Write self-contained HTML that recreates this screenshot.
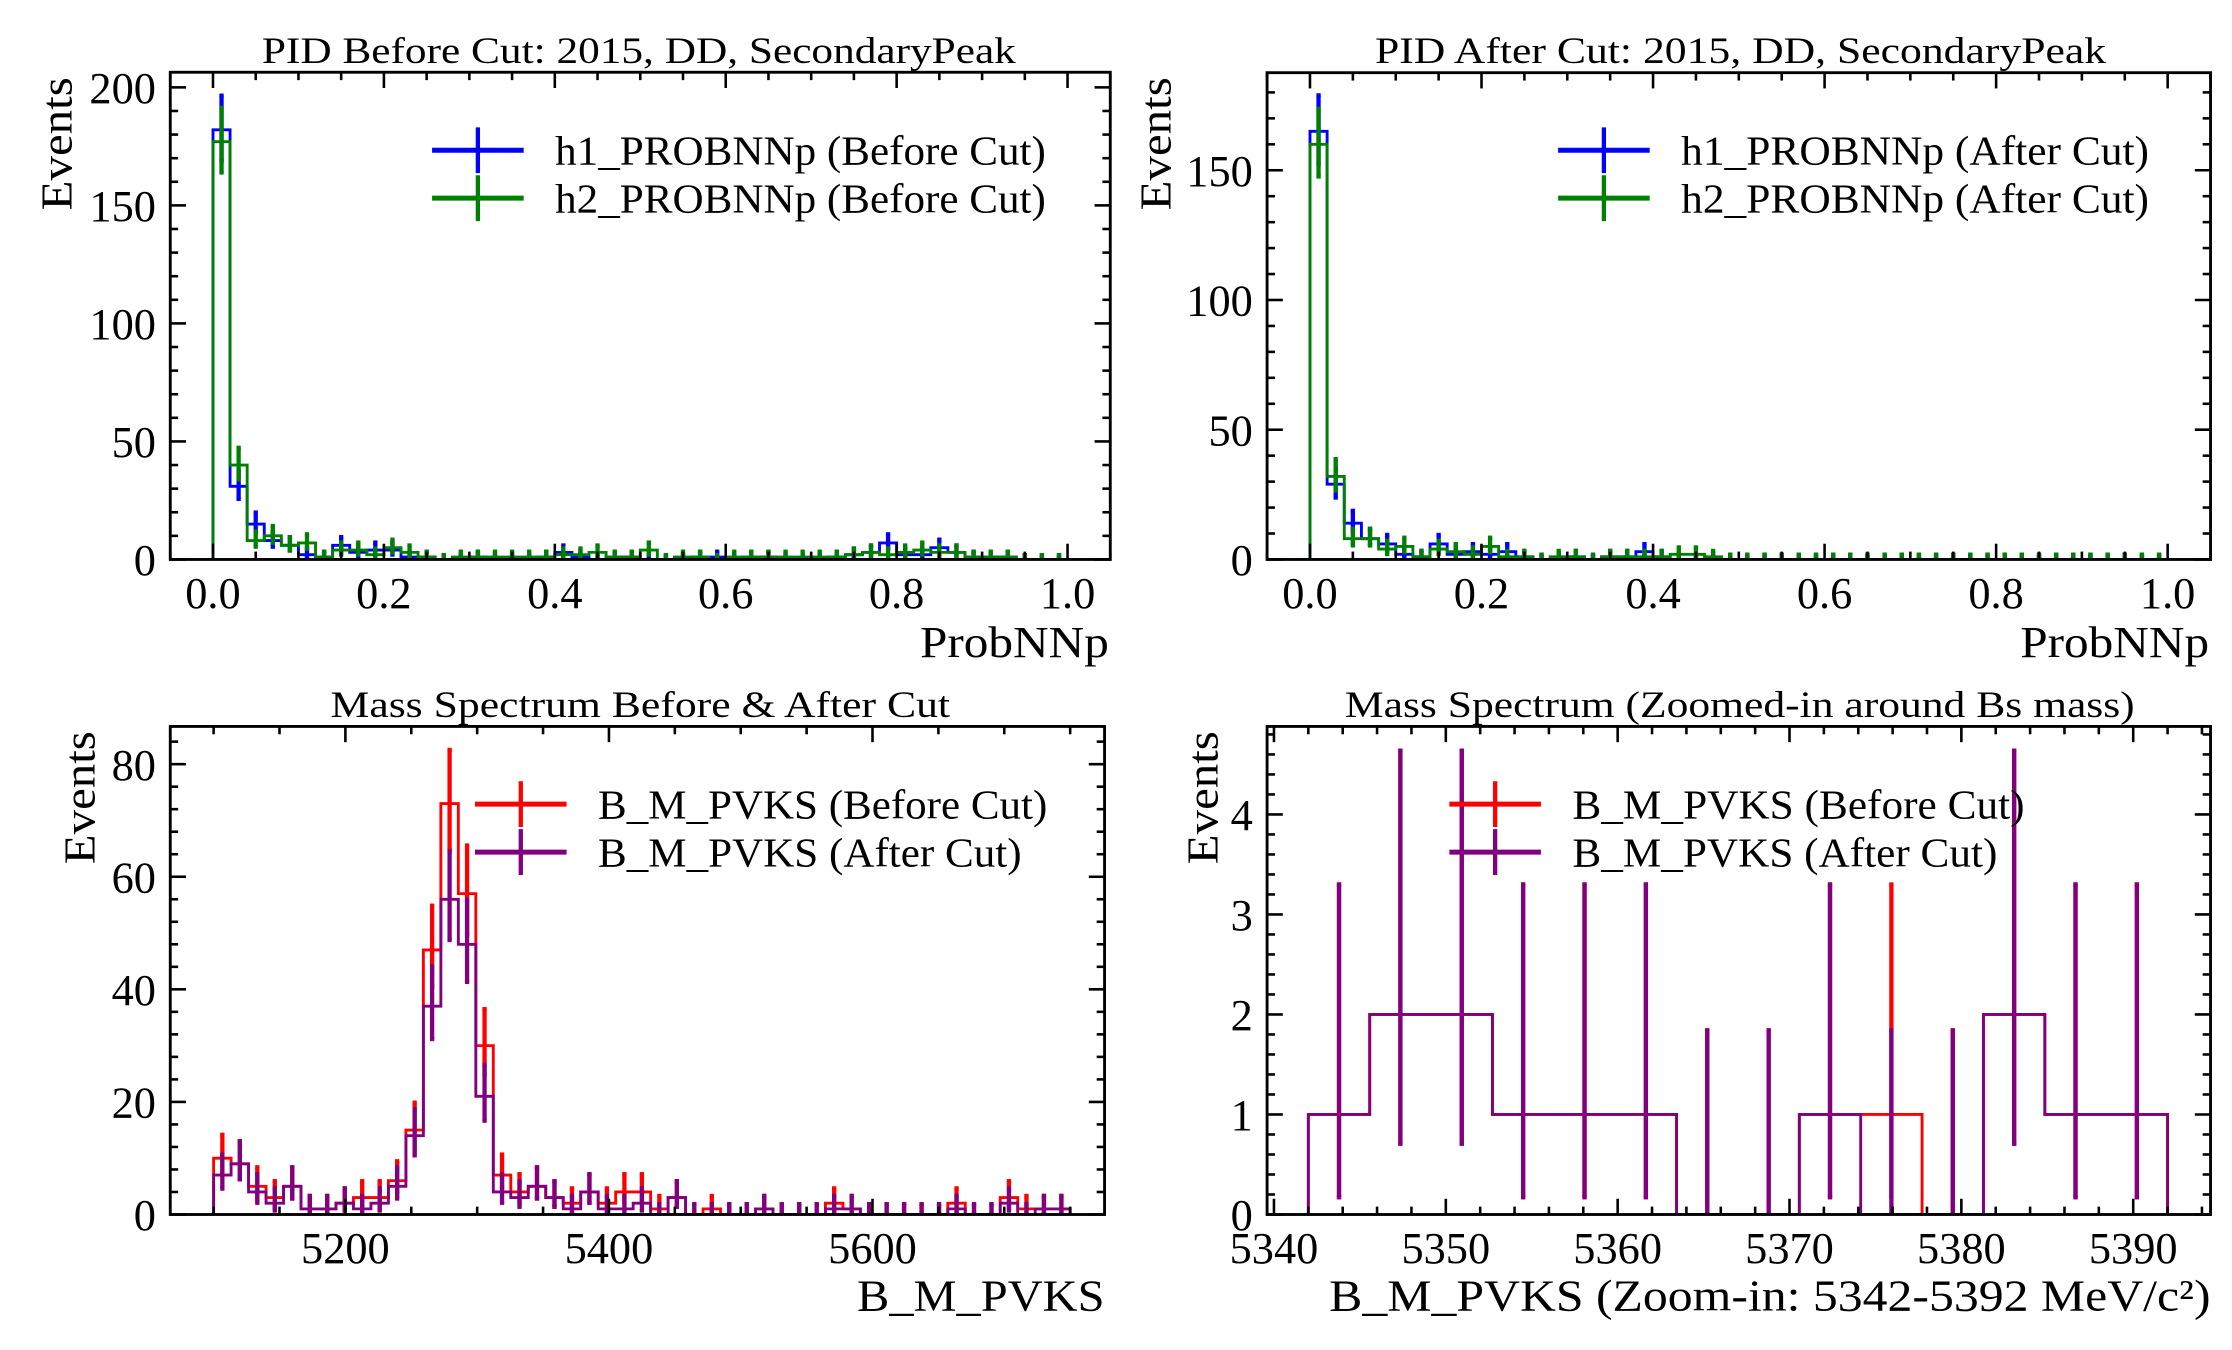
<!DOCTYPE html>
<html><head><meta charset="utf-8"><style>
html,body{margin:0;padding:0;background:#fff;}
svg{display:block;font-family:"Liberation Serif",serif;}
</style></head><body>
<svg id="fig" xmlns="http://www.w3.org/2000/svg" width="2232" height="1350" viewBox="0 0 1560 943.5" preserveAspectRatio="none"></svg>
<script>
// ---- data ----
const pidBins = 50;
const h1Before = [182,31,15,8,6,2,1,6,3,4,4,1,1,0,0,1,0,0,0,1,3,1,0,1,1,0,0,0,1,1,0,1,1,0,0,0,1,2,3,7,2,2,5,3,1,1,1,0,0,0];
const h2Before = [177,40,8,10,6,7,1,4,4,2,5,3,1,0,1,1,1,1,1,1,2,2,3,1,1,4,0,1,1,0,1,1,1,1,1,1,1,2,3,2,3,4,3,3,1,1,1,0,0,0];
const h1After = [165,29,14,8,6,2,1,6,2,3,2,3,1,0,0,1,0,1,1,3,1,0,0,0,0,0,0,0,0,0,0,0,0,0,0,0,0,0,0,0,0,0,0,0,0,0,0,0,0,0];
const h2After = [160,32,8,8,4,5,1,4,3,2,5,1,1,0,1,1,0,1,1,1,1,2,2,1,0,0,0,0,0,0,0,0,0,0,0,0,0,0,0,0,0,0,0,0,0,0,0,0,0,0];
const massBefore = [10,9,5,3,5,1,1,2,3,3,6,15,47,73,57,30,7,4,5,3,2,4,2,4,4,1,3,0,1,0,0,1,0,0,0,2,1,0,0,0,0,0,2,0,0,3,1,1,1];
const massAfter  = [7,9,4,2,5,1,1,2,1,2,5,14,37,56,48,21,4,3,5,3,1,4,1,1,2,0,3,0,0,0,0,1,0,0,0,1,1,0,0,0,0,0,1,0,0,2,0,1,1];
const zoomBefore = [1,2,2,1,1,1,0,0,1,1,0,2,1,1];
const zoomAfter  = [1,2,2,1,1,1,0,0,1,0,0,2,1,1];
const pidTicks = [0,0.2,0.4,0.6,0.8,1.0];
const pidTickLabels = ["0.0","0.2","0.4","0.6","0.8","1.0"];
const yTicksTL = [0,50,100,150,200];
const yTicksTR = [0,50,100,150];
const massTicks = [5200,5400,5600];
const yTicksBL = [0,20,40,60,80];
const zoomTicks = [5340,5350,5360,5370,5380,5390];
const yTicksBR = [0,1,2,3,4];

const NS="http://www.w3.org/2000/svg";
const svg=document.getElementById('fig');
function mk(tag,attrs,parent){const e=document.createElementNS(NS,tag);for(const k in attrs)e.setAttribute(k,attrs[k]);(parent||svg).appendChild(e);return e;}
const garw=[[0,1.841],[0.173,3.300],[0.708,4.638],[1.367,5.918],[2.086,7.163],[2.840,8.382]];
function errs(n){if(n<garw.length)return garw[n];return [n-Math.sqrt(n)+0.25,n+Math.sqrt(n)+1];}

function panel(p){
  const g=mk('g',{});
  
  
  const sx=v=>p.L+(v-p.xmin)/(p.xmax-p.xmin)*(p.R-p.L);
  const sy=v=>p.B-(v-p.ymin)/(p.ymax-p.ymin)*(p.B-p.T);
  const clip='c'+p.name;
  const cp=mk('clipPath',{id:clip},g);mk('rect',{x:p.L,y:p.T,width:p.R-p.L,height:p.B-p.T},cp);
  const dg=mk('g',{'clip-path':'url(#'+clip+')'},g);
  const bw=(p.hi-p.lo)/p.nb;
  p.series.forEach((s,si)=>{
    let d='M'+sx(p.lo)+','+sy(0);
    s.vals.forEach((v,i)=>{d+=' L'+sx(p.lo+i*bw)+','+sy(v)+' L'+sx(p.lo+(i+1)*bw)+','+sy(v);});
    d+=' L'+sx(p.hi)+','+sy(0);
    const st=mk('path',{d:d,fill:'none',stroke:s.color,'stroke-width':2},dg);
    
    
  });
  p.series.forEach((s)=>{
    s.vals.forEach((v,i)=>{
      const cx=sx(p.lo+(i+0.5)*bw);const e=errs(v);
      const eg=mk('g',{stroke:s.color,'stroke-width':3,fill:'none'},dg);
      
      
      mk('line',{x1:cx,x2:cx,y1:sy(e[0]),y2:sy(e[1])},eg);
      mk('line',{x1:cx-1.5,x2:cx+1.5,y1:sy(e[0]),y2:sy(e[0])},eg);
      mk('line',{x1:cx-1.5,x2:cx+1.5,y1:sy(e[1]),y2:sy(e[1])},eg);
    });
  });
  const fr=mk('rect',{x:p.L,y:p.T,width:p.R-p.L,height:p.B-p.T,fill:'none',stroke:'#000','stroke-width':2},g);
  
  const tg=mk('g',{stroke:'#000','stroke-width':1.8},g);
  const xmaj=p.xt[1]-p.xt[0];const xminor=xmaj/p.xsub;
  for(let v=Math.ceil(p.xmin/xminor)*xminor;v<=p.xmax+1e-9;v+=xminor){
    const isMaj=Math.abs(((v-p.xt[0])/xmaj)-Math.round((v-p.xt[0])/xmaj))<1e-6;const l=isMaj?11:5.5;const x=sx(v);
    mk('line',{x1:x,x2:x,y1:p.B,y2:p.B-l},tg);mk('line',{x1:x,x2:x,y1:p.T,y2:p.T+l},tg);}
  const ymaj=p.yt[1]-p.yt[0];const yminor=ymaj/p.ysub;
  for(let v=0;v<=p.ymax+1e-9;v+=yminor){
    const isMaj=Math.abs(v/ymaj-Math.round(v/ymaj))<1e-6;const l=isMaj?11:5.5;const y=sy(v);
    mk('line',{x1:p.L,x2:p.L+l,y1:y,y2:y},tg);mk('line',{x1:p.R,x2:p.R-l,y1:y,y2:y},tg);}
  p.xt.forEach((v,i)=>{const t=mk('text',{x:sx(v),y:p.B+34,'text-anchor':'middle','font-size':31},g);t.textContent=p.xtl?p.xtl[i]:String(v);
    });
  p.yt.forEach(v=>{const t=mk('text',{x:p.L-10,y:sy(v)+11,'text-anchor':'end','font-size':31},g);t.textContent=String(v);
    });
  const ti=mk('text',{x:p.title[1],y:p.title[2],'font-size':26,textLength:p.title[3],lengthAdjust:'spacingAndGlyphs'},g);ti.textContent=p.title[0];
  
  const xl=mk('text',{x:p.xlab[1],y:p.xlab[2],'font-size':31,textLength:p.xlab[3],lengthAdjust:'spacingAndGlyphs'},g);xl.textContent=p.xlab[0];
  
  const yl=mk('text',{x:0,y:0,'font-size':31,textLength:93,lengthAdjust:'spacingAndGlyphs',transform:'translate('+p.ylab[0]+','+p.ylab[1]+') rotate(-90)'},g);yl.textContent='Events';
  
  p.series.forEach((s,i)=>{
    const y=p.leg[1]+i*33.5;
    const lg=mk('g',{},g);
    
    
    mk('line',{x1:p.leg[0],x2:p.leg[0]+64,y1:y,y2:y,stroke:s.color,'stroke-width':3.5},lg);
    mk('line',{x1:p.leg[0]+32,x2:p.leg[0]+32,y1:y-16,y2:y+16,stroke:s.color,'stroke-width':3},lg);
    const t=mk('text',{x:p.leg[2],y:y+10,'font-size':29,textLength:s.lw,lengthAdjust:'spacingAndGlyphs'},lg);t.textContent=s.label;
  });
}

panel({name:'pid-before-panel',L:119,R:776,T:50.5,B:391,xmin:-0.05,xmax:1.05,ymin:0,ymax:206.4,lo:0,hi:1,nb:pidBins,
  xt:pidTicks,xtl:pidTickLabels,xsub:4,yt:yTicksTL,ysub:5,
  title:['PID Before Cut: 2015, DD, SecondaryPeak',183,44,527],xlab:['ProbNNp',643,459,132],ylab:[50,147],leg:[302,105,388],
  series:[{key:'h1-before',vals:h1Before,color:'#0000ff',label:'h1_PROBNNp (Before Cut)',lw:343},
          {key:'h2-before',vals:h2Before,color:'#008000',label:'h2_PROBNNp (Before Cut)',lw:343}]});
panel({name:'pid-after-panel',L:885.6,R:1545,T:50.8,B:391,xmin:-0.05,xmax:1.05,ymin:0,ymax:187.6,lo:0,hi:1,nb:pidBins,
  xt:pidTicks,xtl:pidTickLabels,xsub:4,yt:yTicksTR,ysub:5,
  title:['PID After Cut: 2015, DD, SecondaryPeak',961,44,511],xlab:['ProbNNp',1412,459,132],ylab:[818,147],leg:[1089,105,1175],
  series:[{key:'h1-after',vals:h1After,color:'#0000ff',label:'h1_PROBNNp (After Cut)',lw:327},
          {key:'h2-after',vals:h2After,color:'#008000',label:'h2_PROBNNp (After Cut)',lw:327}]});
panel({name:'mass-spectrum-panel',L:119,R:772,T:507.7,B:848.8,xmin:5067.1,xmax:5776.1,ymin:0,ymax:86.7,lo:5100,hi:5750,nb:massBefore.length,
  xt:massTicks,xsub:4,yt:yTicksBL,ysub:5,
  title:['Mass Spectrum Before & After Cut',231,501,433],xlab:['B_M_PVKS',599,916,173],ylab:[66,604],leg:[332,562,418],
  series:[{key:'mass-before',vals:massBefore,color:'#ff0000',label:'B_M_PVKS (Before Cut)',lw:314},
          {key:'mass-after',vals:massAfter,color:'#800080',label:'B_M_PVKS (After Cut)',lw:296}]});
panel({name:'mass-zoom-panel',L:885.6,R:1545,T:507.7,B:848.8,xmin:5339.6,xmax:5394.5,ymin:0,ymax:4.88,lo:5342,hi:5392,nb:zoomBefore.length,
  xt:zoomTicks,xsub:5,yt:yTicksBR,ysub:5,
  title:['Mass Spectrum (Zoomed-in around Bs mass)',940,501,552],xlab:['B_M_PVKS (Zoom-in: 5342-5392 MeV/c²)',929,916,616],ylab:[851,604],leg:[1013,562,1099],
  series:[{key:'zoom-before',vals:zoomBefore,color:'#ff0000',label:'B_M_PVKS (Before Cut)',lw:316},
          {key:'zoom-after',vals:zoomAfter,color:'#800080',label:'B_M_PVKS (After Cut)',lw:297}]});
</script>
</body></html>
